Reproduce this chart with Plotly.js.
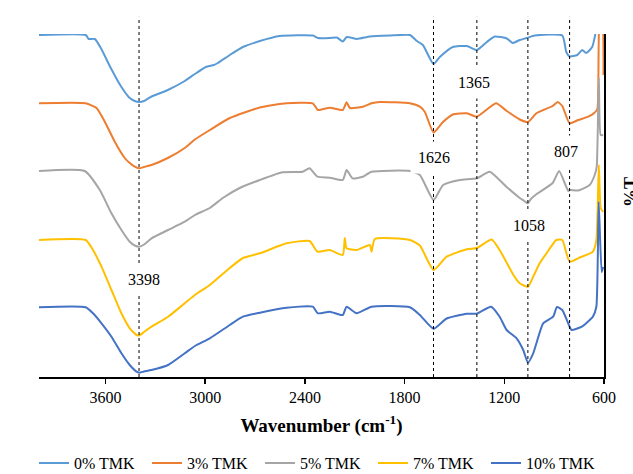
<!DOCTYPE html>
<html>
<head>
<meta charset="utf-8">
<script src="https://cdn.plot.ly/plotly-3.0.1.min.js"></script>
<style>html,body{margin:0;padding:0;background:#fff;}#chart{width:633px;height:474px;}</style>
</head>
<body>
<div id="chart"></div>
<script>
// Series names
const seriesNames = ["0% TMK", "3% TMK", "5% TMK", "7% TMK", "10% TMK"];

// Wavenumbers (cm-1) and stacked transmittance (offset, a.u.)
const wn0 = [4000, 3719, 3701, 3664, 3628, 3568, 3508, 3454, 3424, 3398, 3368, 3328, 3225, 3123, 3062, 2996, 2948, 2924, 2852, 2773, 2671, 2551, 2352, 2322, 2250, 2208, 2172, 2148, 2087, 2009, 1889, 1768, 1726, 1690, 1626, 1588, 1510, 1425, 1365, 1305, 1257, 1185, 1150, 1107, 1065, 1017, 851, 827, 807, 761, 731, 707, 671, 653, 630, 600];
const t0 = [342, 342, 338, 338, 329, 309, 291, 279, 276, 275, 276, 280, 287, 296, 303, 310, 312, 314, 322, 330, 336, 341, 341.5, 339, 339, 339.5, 335.5, 340, 338, 340.5, 341.5, 342, 336, 332, 313, 320, 330, 331, 327, 335, 340.5, 338.5, 334, 337, 339, 341.5, 341.5, 325, 320.5, 322, 327, 324, 330, 342, 360, 360];

const wn3 = [4000, 3719, 3654, 3604, 3544, 3484, 3454, 3424, 3398, 3368, 3323, 3225, 3123, 3062, 2972, 2852, 2671, 2510, 2352, 2322, 2250, 2172, 2149, 2129, 2051, 1999, 1949, 1768, 1708, 1678, 1626, 1572, 1510, 1425, 1365, 1250, 1185, 1107, 1058, 1005, 909, 879, 851, 807, 755, 695, 659, 640, 625, 612, 603];
const t3 = [273.7, 273.7, 269, 255.3, 235.3, 219, 214, 210.3, 208.7, 210, 212, 219, 229, 237.5, 247, 259, 269.5, 273.7, 273.7, 267, 269.3, 267, 274.7, 269, 270.3, 273.7, 275, 273.7, 270.3, 265, 244.5, 254.5, 262.5, 263.7, 260.3, 273.7, 266, 257.5, 255, 264, 271, 275, 271, 253.7, 257, 260.3, 264, 268, 360, 360, 302];

const wn5 = [4000, 3725, 3634, 3564, 3504, 3454, 3424, 3398, 3368, 3323, 3223, 3123, 3062, 2972, 2894, 2792, 2671, 2535, 2414, 2372, 2324, 2250, 2172, 2149, 2113, 2051, 1999, 1768, 1708, 1626, 1568, 1467, 1365, 1288, 1186, 1107, 1080, 1058, 1040, 1005, 909, 870, 815, 807, 755, 686, 656, 644, 631, 620, 605];
const t5 = [206, 206, 187, 163.7, 147, 135.3, 131.5, 130.3, 132.5, 138.7, 147, 155.3, 162, 169, 179, 189, 197, 204.7, 205.3, 208.7, 200.3, 199.3, 197, 207, 198.7, 200.3, 205.3, 206, 202, 177, 192, 197, 198.7, 205.3, 190, 179, 176, 173.7, 178, 183, 194, 206, 186, 187, 186.5, 192, 202, 210, 299, 242, 242];

const wn7 = [4000, 3719, 3675, 3624, 3564, 3504, 3454, 3413, 3398, 3368, 3323, 3223, 3123, 3062, 2972, 2852, 2773, 2671, 2510, 2372, 2324, 2250, 2172, 2160, 2149, 2089, 2009, 1999, 1979, 1768, 1708, 1626, 1547, 1426, 1365, 1276, 1228, 1146, 1107, 1058, 1026, 987, 946, 887, 851, 807, 746, 667, 646, 631, 620, 605];
const t7 = [137, 137, 127, 110.3, 87, 63.7, 48.7, 42, 41.5, 45, 50.3, 60.3, 73.7, 82, 92, 109, 119, 123.7, 133.7, 136, 125.3, 127, 122, 139, 128.7, 127, 132, 125.3, 138, 137, 131.5, 107, 120.3, 127.7, 129, 137.5, 127, 102.3, 93.7, 90.3, 100.3, 113.7, 123.7, 137, 137, 115.3, 119.5, 125.3, 137, 212, 169, 165];

const wn10 = [4000, 3719, 3675, 3624, 3564, 3504, 3454, 3413, 3398, 3368, 3323, 3223, 3123, 3062, 2972, 2852, 2773, 2671, 2510, 2352, 2322, 2250, 2172, 2149, 2089, 1999, 1768, 1708, 1626, 1547, 1426, 1365, 1280, 1228, 1186, 1126, 1086, 1058, 1026, 966, 906, 883, 851, 807, 795, 733, 686, 667, 646, 632, 614, 605];
const t10 = [69.7, 69.7, 63.7, 53.7, 40.3, 23.7, 12, 5.3, 4.3, 5.5, 7, 12, 23.7, 31, 38.7, 52, 60.3, 64.3, 69.3, 70.3, 63.7, 65.3, 62, 70.3, 63.7, 70.3, 69.7, 62, 48.3, 58.5, 63.3, 63.3, 70.3, 60.3, 47, 38.7, 27, 14.3, 23.7, 53.7, 60.3, 70, 67, 50.3, 47, 50.3, 57, 60.3, 70.3, 175, 105, 110];

const seriesColors = ["#5B9BD5", "#ED7D31", "#A5A5A5", "#FFC000", "#4472C4"];

// Marked peaks (cm-1)
const peakPositions = [3398, 1626, 1365, 1058, 807];
const peakLabels = ["3398", "1626", "1365", "1058", "807"];

// X-axis ticks
const tickVals = [3600, 3000, 2400, 1800, 1200, 600];
const tickText = ["3600", "3000", "2400", "1800", "1200", "600"];

const xs = [wn0, wn3, wn5, wn7, wn10];
const ys = [t0, t3, t5, t7, t10];

const serif = "'Liberation Serif', 'Times New Roman', Times, serif";

const traces = seriesNames.map((n, i) => ({
  x: xs[i], y: ys[i], name: n, type: "scatter", mode: "lines",
  line: {color: seriesColors[i], width: 2, shape: "spline", smoothing: 0.5}
}));

// label placement (layout only)
const labelY = [0.283, 0.64, 0.86, 0.443, 0.656];
const labelShift = [5, 0, -3, 1, -4];

const shapes = peakPositions.map(p => ({
  type: "line", xref: "x", yref: "paper", x0: p, x1: p, y0: 0, y1: 1.05,
  line: {color: "#000", width: 1, dash: "3px,3px"}, layer: "above"
}));

const annotations = peakPositions.map((p, i) => ({
  x: p, xref: "x", y: labelY[i], yref: "paper", text: peakLabels[i],
  xanchor: "center", yanchor: "middle",
  showarrow: false, xshift: labelShift[i], bgcolor: "#fff", borderpad: 7,
  font: {family: serif, size: 16, color: "#000"}
}));
annotations.push({
  x: 1.048, xref: "paper", y: 0.54, yref: "paper", text: "<b>%T</b>", textangle: -90,
  xanchor: "center", yanchor: "middle",
  showarrow: false, font: {family: serif, size: 18, color: "#000"}
});

const layout = {
  width: 633, height: 474,
  font: {family: serif, color: "#000"},
  margin: {l: 39, r: 29, t: 34, b: 97},
  paper_bgcolor: "#fff", plot_bgcolor: "#fff",
  showlegend: true,
  legend: {orientation: "h", xref: "container", yref: "container", x: 0.5, xanchor: "center", y: 0.023, yanchor: "middle",
    font: {family: serif, size: 16, color: "#000"}, traceorder: "normal", itemwidth: 30, entrywidth: 68},
  xaxis: {range: [4000, 600], tickvals: tickVals, ticktext: tickText, ticks: "outside", ticklen: 5, tickwidth: 1.5, tickcolor: "#000",
    showline: true, linecolor: "#000", linewidth: 2, showgrid: false, zeroline: false,
    tickfont: {family: serif, size: 16, color: "#000"},
    title: {text: "<b>Wavenumber (cm<sup>-1</sup>)</b>", font: {family: serif, size: 19, color: "#000"}, standoff: 13}},
  yaxis: {range: [0, 343], side: "right", showline: true, linecolor: "#000", linewidth: 1.5, showticklabels: false, ticks: "",
    showgrid: false, zeroline: false},
  shapes: shapes,
  annotations: annotations
};

Plotly.newPlot("chart", traces, layout, {displayModeBar: false, staticPlot: true});
</script>
</body>
</html>
